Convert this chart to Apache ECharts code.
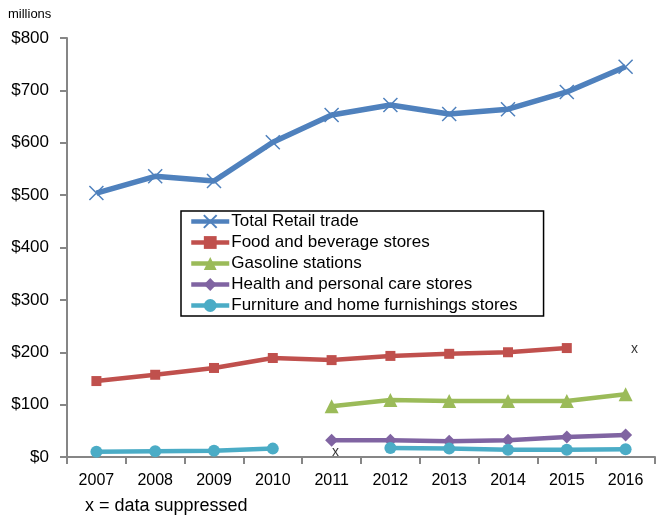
<!DOCTYPE html>
<html><head><meta charset="utf-8">
<script src="https://cdn.jsdelivr.net/npm/echarts@6/dist/echarts.min.js"></script>
<style>html,body{margin:0;padding:0;background:#fff}#c{width:657px;height:518px}</style>
</head><body><div id="c"></div>
<script>
var years = ['2007','2008','2009','2010','2011','2012','2013','2014','2015','2016'];
var totalRetail = [504, 536, 527, 601, 653, 672, 655, 664, 697, 745];
var foodBeverage = [145, 157, 170, 189, 185, 193, 197, 200, 208, null];
var gasoline = [null, null, null, null, 97, 109, 107, 107, 107, 120];
var healthCare = [null, null, null, null, 32, 32, 30, 32, 38, 42];
var furniture = [10, 11, 12, 16, null, 17, 16, 14, 14, 15];
var suppressed = [['2011', 10], ['2016', 206]];
var seriesNames = ['Total Retail trade','Food and beverage stores','Gasoline stations','Health and personal care stores','Furniture and home furnishings stores'];
var yTicks = [0, 100, 200, 300, 400, 500, 600, 700, 800];

var font = 'Liberation Sans';
var suppressedOffsets = [[4, 0], [9, 0]];
function line(name, data, color, symbol, size, extra) {
  var s = {
    name: name, type: 'line', data: data, connectNulls: false,
    symbol: symbol, symbolSize: size, showAllSymbol: true,
    lineStyle: {color: color, width: 4.5},
    itemStyle: {color: color},
    emphasis: {disabled: true}, z: 3
  };
  if (extra) Object.assign(s, extra);
  return s;
}
var chart = echarts.init(document.getElementById('c'), null, {renderer: 'canvas'});
chart.setOption({
  animation: false,
  textStyle: {fontFamily: font},
  grid: {left: 67, right: 2, top: 38, bottom: 61},
  graphic: [
    {type: 'text', left: 8, top: 8, style: {text: 'millions', font: '13px ' + font, fill: '#000'}},
    {type: 'text', left: 85, top: 497, style: {text: 'x = data suppressed', font: '18px ' + font, fill: '#000'}}
  ],
  legend: {
    data: seriesNames, orient: 'vertical', left: 181, top: 211,
    padding: [2, 26, 2, 8], itemGap: 4, itemWidth: 38, itemHeight: 16,
    backgroundColor: '#fff', borderColor: '#000', borderWidth: 1.5,
    lineStyle: {width: 4.5},
    textStyle: {fontFamily: font, fontSize: 17, lineHeight: 16, color: '#000', padding: [0, 0, 0, -3]},
    selectedMode: false
  },
  xAxis: {
    type: 'category', data: years, boundaryGap: true,
    axisLine: {lineStyle: {color: '#868686', width: 2}},
    axisTick: {show: true, length: 7, lineStyle: {color: '#868686', width: 2}},
    axisLabel: {color: '#000', fontSize: 16, margin: 16, fontFamily: font},
    splitLine: {show: false}
  },
  yAxis: {
    type: 'value', min: yTicks[0], max: yTicks[yTicks.length - 1], interval: 100,
    axisLine: {show: true, lineStyle: {color: '#868686', width: 2}},
    axisTick: {show: true, length: 7, lineStyle: {color: '#868686', width: 2}},
    axisLabel: {color: '#000', fontSize: 17, margin: 18, fontFamily: font, formatter: function (v) { return '$' + v; }},
    splitLine: {show: false}
  },
  series: [
    line(seriesNames[0], totalRetail, '#4F81BD', 'path://M0 0L10 10M10 0L0 10', 14,
      {lineStyle: {color: '#4F81BD', width: 5.5}, itemStyle: {color: 'rgba(0,0,0,0)', borderColor: '#4F81BD', borderWidth: 1.5}, z: 5}),
    line(seriesNames[1], foodBeverage, '#C0504D', 'rect', 10),
    line(seriesNames[2], gasoline, '#9BBB59', 'triangle', 14),
    line(seriesNames[3], healthCare, '#8064A2', 'diamond', 13),
    line(seriesNames[4], furniture, '#4BACC6', 'circle', 12),
    {
      name: 'suppressed', type: 'scatter', symbol: 'circle', symbolSize: 2,
      data: suppressed.map(function (d, i) { return {value: d, label: {offset: suppressedOffsets[i]}}; }),
      itemStyle: {color: 'rgba(0,0,0,0)'},
      label: {show: true, position: 'inside', formatter: 'x', fontSize: 14, color: '#000', fontFamily: font},
      emphasis: {disabled: true}
    }
  ]
});
</script></body></html>
